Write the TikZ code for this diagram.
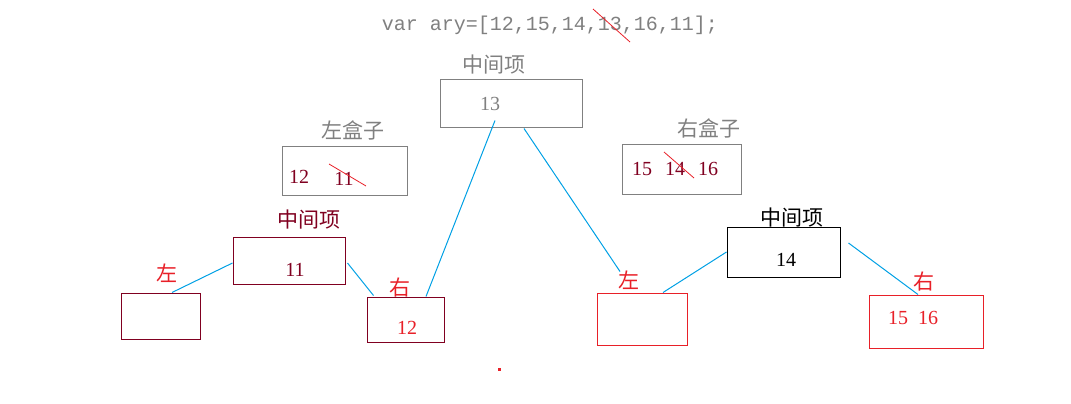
\documentclass[tikz,border=0pt]{standalone}
\usepackage{fontspec}
\setmainfont{Liberation Serif}
\setmonofont{Liberation Mono}
\newfontfamily\cjk{Noto Sans CJK SC}
\usetikzlibrary{positioning}
\usetikzlibrary{calc}

\definecolor{boxgray}{RGB}{128,128,128}
\definecolor{darkred}{RGB}{128,0,32}
\definecolor{tred}{RGB}{232,32,40}
\definecolor{lineblue}{RGB}{0,160,228}

\begin{document}
\begin{tikzpicture}[x=1pt, y=-1pt, font=\fontsize{20}{20}\selectfont,
  box/.style={draw, rectangle, inner sep=0pt, line width=1pt},
  link/.style={draw=lineblue, line width=1pt},
  strike/.style={draw=tred, line width=0.8pt},
  lbl/.style={inner sep=0pt},
  cjklbl/.style={inner sep=0pt, font=\cjk\fontsize{21}{21}\selectfont}]

 \useasboundingbox (0,0) rectangle (1071,404);

 \node[lbl, boxgray, font=\ttfamily\fontsize{20}{20}\selectfont] (ary) at (550,25) {var ary=[12,15,14,13,16,11];};
 \draw[strike] (593,9) -- (630,42);

 % top
 \node[box, draw=boxgray, minimum width=142, minimum height=47] (top) at (511,103.5) {};
 \node[lbl, boxgray] (topv) at (490,104) {13};

 \foreach \n/\x/\y/\name in { mtop/494/65/中间项, lbag/353/130/左盒子, rbag/709/128/右盒子 } {
        \node[cjklbl, boxgray] (\n) at (\x,\y) {\name};
 }

 % bags
 \node[box, draw=boxgray, minimum width=125, minimum height=49] (lbox) at (344.5,170.5) {};
 \node[box, draw=boxgray, minimum width=119, minimum height=50] (rbox) at (681.5,169) {};

 \foreach \n/\x/\y/\name in { lb1/299/177/12, lb2/344/179/11, rb1/642/169/15, rb2/675/169/14, rb3/708/169/16 } {
        \node[lbl, darkred] (\n) at (\x,\y) {\name};
 }
 \draw[strike] (329,164) -- (366,186);
 \draw[strike] (664,152) -- (694,178);

 %level 2 left
 \node[box, draw=darkred, minimum width=112, minimum height=47] (mid1) at (289,260.5) {};
 \node[cjklbl, darkred] (mid1t) at (309,220) {中间项};
 \node[lbl, darkred] (mid1v) at (295,270) {11};

 \node[box, draw=darkred, minimum width=79, minimum height=46] (l1) at (160.5,316) {};
 \node[cjklbl, tred] (l1t) at (167,273) {左};

 \node[box, draw=darkred, minimum width=77, minimum height=45] (r1) at (405.5,319.5) {};
 \node[cjklbl, tred] (r1t) at (400,288) {右};
 \node[lbl, tred] (r1v) at (407,328) {12};

 %level 2 right
 \node[box, draw=black, minimum width=113, minimum height=50] (mid2) at (783.5,252) {};
 \node[cjklbl, black] (mid2t) at (792,218) {中间项};
 \node[lbl, black] (mid2v) at (786,260) {14};

 \node[box, draw=tred, minimum width=90, minimum height=52] (l2) at (642,319) {};
 \node[cjklbl, tred] (l2t) at (629,280) {左};

 \node[box, draw=tred, minimum width=114, minimum height=53] (r2) at (926,321.5) {};
 \node[cjklbl, tred] (r2t) at (924,282) {右};
 \node[lbl, tred] (r2v) at (913,318) {15\ \ 16};

 \fill[tred] (498,367.5) rectangle (500.5,370.5);

 % lines
 \draw[link] ([xshift=11.5pt]l1.north) -- ([yshift=-2.5pt]mid1.west);
 \draw[link] ([xshift=2pt,yshift=-2.5pt]mid1.east) -- ([xshift=7pt,yshift=1pt]r1.north west);
 \draw[link] ([xshift=20.5pt]r1.north) -- ([xshift=-16pt,yshift=7pt]top.south);
 \draw[link] ([xshift=13pt,yshift=-1pt]top.south) -- ([xshift=-22pt,yshift=21pt]l2.north);
 \draw[link] ([xshift=21pt]l2.north) -- (mid2.west);
 \draw[link] ([xshift=8pt,yshift=9pt]mid2.east) -- ([xshift=-8pt]r2.north);

\end{tikzpicture}
\end{document}
